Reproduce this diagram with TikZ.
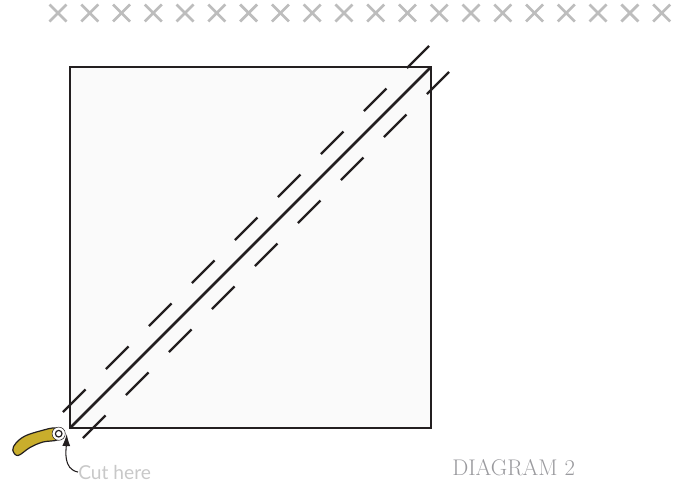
\documentclass[tikz,border=0pt]{standalone}
\usepackage{fontspec}
\usetikzlibrary{arrows.meta}
\newfontfamily\cutfont{Lato}
\definecolor{inkblack}{HTML}{231F20}
\definecolor{crossgray}{HTML}{BDBDBD}
\definecolor{cutgray}{HTML}{C8C8C8}
\definecolor{labelgray}{HTML}{9A9A9E}
\definecolor{bladeyellow}{HTML}{C9AE2C}
\tikzset{
  seam/.style={inkblack, line width=1.8pt, dash pattern=on 23.9pt off 21.7pt},
  cross/.style={crossgray, line width=2pt}
}
\begin{document}
\begin{tikzpicture}[x=0.75pt,y=-0.75pt]
    \useasboundingbox (0,0) rectangle (673,483);

    % fila de cruces
    \foreach \Pos in {0,...,19}{
        \draw[cross] ({58+31.77*\Pos-8.5},4.5) -- ++(17,17);
        \draw[cross] ({58+31.77*\Pos+8.5},4.5) -- ++(-17,17);
    }

    % el cuadrado
    \draw[inkblack, line width=2.1pt, fill=black!2] (70,67) rectangle (431,428);
    \draw[inkblack, line width=2.1pt] (70,428) -- (431,67); % diagonal

    % costuras
    \draw[seam] (63,412) -- (429,46);
    \draw[seam] (83,438) -- (449,72);

    % las tijeras
    \draw[inkblack, line width=0.9pt, fill=bladeyellow, line join=round]
        plot[smooth cycle, tension=0.6] coordinates {(12.8,450) (18,455.5) (30,447.5) (43,442) (57,440)
            (60,434) (55,428) (40,431) (25,436) (16,443)};
    \draw[inkblack, line width=0.4pt, fill=white] (58.7,433.7) circle (6.6);
    \draw[inkblack, line width=0.9pt, fill=white] (58.7,433.7) circle (3.3);

    % textos
    \node[anchor=base west, inner sep=0pt, text=cutgray] (cut) at (78,479)
        {\fontsize{14.4pt}{16pt}\cutfont Cut here};
    \node[anchor=base west, inner sep=0pt, text=labelgray] (diagram) at (452,475)
        {\fontsize{17pt}{20pt}\selectfont DIAGRAM 2};

    % la flecha
    \coordinate (tip) at (66.7,434);
    \draw[-{Latex[length=9pt,width=6pt]}, inkblack, line width=0.8pt] (cut.west) to[out=170,in=268] (tip);
\end{tikzpicture}
\end{document}
